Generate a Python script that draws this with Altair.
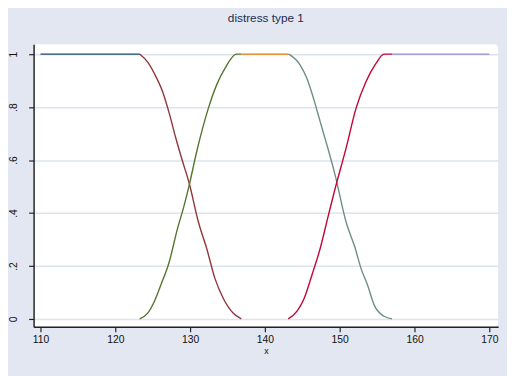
import altair as alt
import pandas as pd

# Series
flat1_x = [110, 123.3]
flat1_y = [1, 1]

dec1_x = [123.3, 124.34, 125.22, 126.32, 127.2, 128.07, 128.95, 129.83, 131.14, 132.24, 133.33, 134.43, 135.75, 136.84]
dec1_y = [1.0, 0.970, 0.927, 0.859, 0.778, 0.685, 0.599, 0.518, 0.363, 0.264, 0.152, 0.078, 0.022, 0.0]

inc1_x = [123.25, 124.34, 125.22, 126.09, 127.2, 128.29, 129.17, 129.83, 130.92, 132.46, 133.55, 134.64, 136.18, 136.84]
inc1_y = [0.0, 0.022, 0.066, 0.128, 0.214, 0.338, 0.425, 0.499, 0.636, 0.797, 0.884, 0.945, 1.0, 1.0]

flat2_x = [136.84, 143.2]
flat2_y = [1, 1]

dec2_x = [143.2, 144.74, 145.62, 146.49, 147.37, 148.25, 149.34, 150.88, 151.97, 152.86, 153.72, 154.6, 155.92, 157.0]
dec2_y = [1.0, 0.958, 0.908, 0.834, 0.747, 0.661, 0.549, 0.363, 0.276, 0.19, 0.128, 0.053, 0.01, 0.0]

inc2_x = [143.12, 144.3, 145.17, 146.28, 147.37, 148.46, 149.34, 150.88, 152.2, 153.51, 154.83, 155.92, 157.0]
inc2_y = [0.0, 0.029, 0.072, 0.165, 0.264, 0.388, 0.487, 0.648, 0.797, 0.896, 0.964, 1.0, 1.0]

flat3_x = [157.0, 170]
flat3_y = [1, 1]

series_names = ["s1", "s2", "s3", "s4", "s5", "s6", "s7"]
series_colors = ["#1a476f", "#90353b", "#55752f", "#e37e00", "#6e8e84", "#c10534", "#938dd2"]
x_ticks = [110, 120, 130, 140, 150, 160, 170]
y_ticks = [0, 0.2, 0.4, 0.6, 0.8, 1]

rows = []
for name, xs, ys in zip(series_names,
                        [flat1_x, dec1_x, inc1_x, flat2_x, dec2_x, inc2_x, flat3_x],
                        [flat1_y, dec1_y, inc1_y, flat2_y, dec2_y, inc2_y, flat3_y]):
    for i, (xv, yv) in enumerate(zip(xs, ys)):
        rows.append({"series": name, "x": xv, "y": yv, "i": i})
df = pd.DataFrame(rows)

chart = alt.Chart(df).mark_line(strokeWidth=1.4, interpolate="monotone").encode(
    x=alt.X("x:Q", title="x",
            scale=alt.Scale(domain=[109.08, 171.18], nice=False, zero=False),
            axis=alt.Axis(values=x_ticks, grid=False, tickSize=5, tickWidth=1.2,
                          tickColor="#222222", domainColor="#222222", domainWidth=1.5,
                          labelFont="Liberation Sans", labelFontSize=10.5, labelColor="#111111",
                          labelPadding=3, titleFont="Liberation Sans", titleFontSize=9,
                          titleFontWeight="normal", titleColor="#111111", titlePadding=2)),
    y=alt.Y("y:Q", title=None,
            scale=alt.Scale(domain=[-0.030, 1.037], nice=False, zero=False),
            axis=alt.Axis(values=y_ticks, grid=True, gridColor="#dde4ee", gridWidth=1.5,
                          tickSize=5, tickWidth=1.2, tickColor="#222222",
                          domainColor="#222222", domainWidth=1.5,
                          labelAngle=270, labelAlign="center", labelBaseline="bottom",
                          labelPadding=10,
                          labelExpr="datum.value == 0 ? '0' : datum.value == 1 ? '1' : replace(format(datum.value, '.1f'), '0.', '.')",
                          labelFont="Liberation Sans", labelFontSize=10.5, labelColor="#111111")),
    color=alt.Color("series:N", scale=alt.Scale(domain=series_names, range=series_colors), legend=None),
    order="i:Q",
).properties(
    width=472,
    height=287,
    title=alt.TitleParams("distress type 1", font="Liberation Sans", fontSize=12,
                          fontWeight="normal", color="#1e2c4f", offset=20),
    background="#e2e7f1",
    padding={"left": 26, "top": 34, "right": 9, "bottom": 47},
    autosize=alt.AutoSizeParams(type="none"),
).configure_view(
    fill="white", stroke=None, cornerRadius=4
)

chart.save("out.html", embed_options={"renderer": "svg", "actions": False})
